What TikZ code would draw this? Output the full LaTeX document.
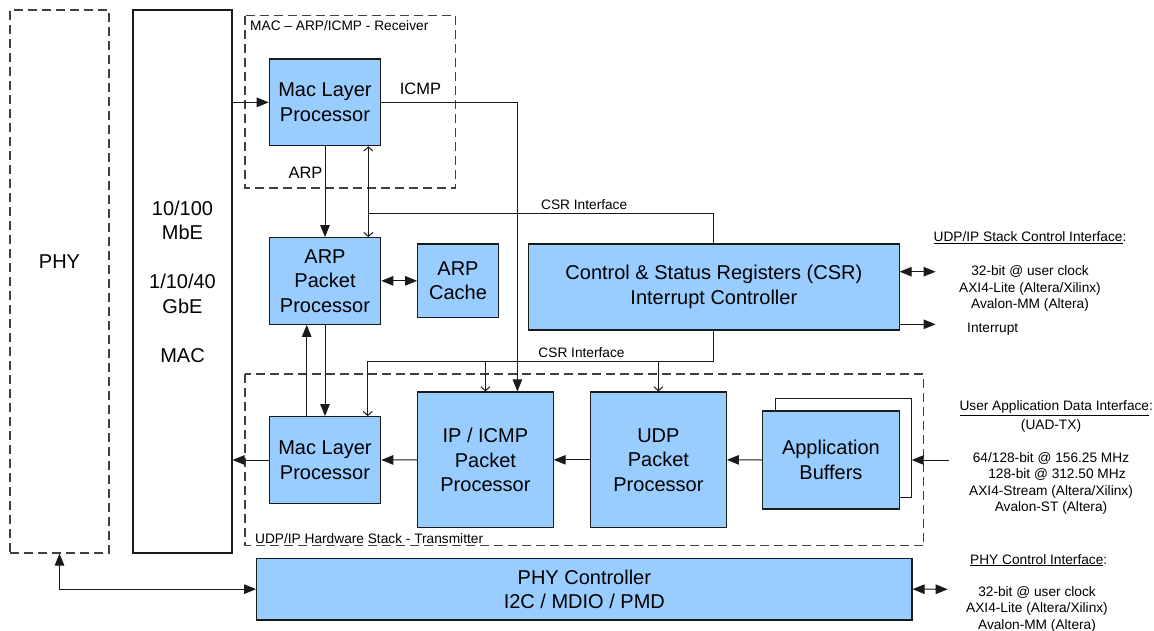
\documentclass[tikz,border=0pt]{standalone}
\usepackage{fontspec}
\setmainfont{Liberation Sans}
\usetikzlibrary{arrows.meta}
\definecolor{boxblue}{HTML}{99CCFF}
\definecolor{dashgray}{HTML}{404040}
\definecolor{linecol}{HTML}{1A1A1A}
\begin{document}
\begin{tikzpicture}[x=1pt,y=-1pt,
  big/.style={font=\fontsize{20}{24.5}\selectfont},
  small/.style={font=\fontsize{13.7}{16.4}\selectfont},
  blk/.style={draw=linecol,fill=boxblue,line width=1.2pt,align=center,inner sep=0pt,big},
  plainbox/.style={draw=linecol,line width=1.1pt,inner sep=0pt,align=center,big},
  dbox/.style={draw=dashgray,line width=1.1pt,dash pattern=on 9pt off 5pt},
  ln/.style={draw=linecol,line width=1pt},
  tri/.style={ln,-{Triangle[length=12pt,width=9.5pt]}},
  tritri/.style={ln,{Triangle[length=12pt,width=9.5pt]}-{Triangle[length=12pt,width=9.5pt]}},
  barb/.style={ln,-{Straight Barb[length=4pt,width=9pt]}},
  barbbarb/.style={ln,{Straight Barb[length=4pt,width=9pt]}-{Straight Barb[length=4pt,width=9pt]}},
  lbl/.style={inner sep=0pt,small},
]
\useasboundingbox (0,0) rectangle (1154,631);

% outer blocks
\node[dbox,inner sep=0pt,minimum width=99pt,minimum height=543pt] (phy) at (59.5,281.5) {};
\node[big,inner sep=0pt,anchor=base] (phylbl) at (59.5,269) {PHY};
\node[plainbox,minimum width=99pt,minimum height=543pt] (mac) at (182.5,281.5)
  {10/100\\MbE\\[24.5pt]1/10/40\\GbE\\[24.5pt]MAC};

% group frames
\draw[dbox] (245,15.7) rectangle (455.7,188);
\node[lbl,anchor=base west] (rxlbl) at (250,30.7) {MAC – ARP/ICMP - Receiver};
\draw[dbox] (245,374) rectangle (923.6,545.5);
\node[lbl,anchor=base west] (txlbl) at (255,543) {UDP/IP Hardware Stack - Transmitter};

% blocks
\node[blk,minimum width=111.4pt,minimum height=86.7pt] (macrx) at (325,102.35) {Mac Layer\\Processor};
\node[blk,minimum width=111.4pt,minimum height=86.6pt] (arppp) at (325,281) {ARP\\Packet\\Processor};
\node[blk,minimum width=80.6pt,minimum height=73.7pt] (arpc) at (458,280.85) {ARP\\Cache};
\node[blk,minimum width=370.5pt,minimum height=86pt] (csr) at (713.85,287)
  {Control \& Status Registers (CSR)\\Interrupt Controller};
\node[blk,minimum width=111.4pt,minimum height=86.6pt] (mactx) at (325,460) {Mac Layer\\Processor};
\node[blk,minimum width=135.4pt,minimum height=135.7pt] (ip) at (485.4,459.85) {IP / ICMP\\Packet\\Processor};
\node[blk,minimum width=135.8pt,minimum height=135.7pt] (udp) at (658.4,459.85) {UDP\\Packet\\Processor};
\node[blk,fill=white,minimum width=135.4pt,minimum height=99pt] (appback) at (843.4,447.8) {};
\node[blk,minimum width=136.3pt,minimum height=98pt] (appfront) at (830.95,460) {Application\\Buffers};
\node[blk,minimum width=655.3pt,minimum height=61.7pt] (phyctl) at (584.35,589.15) {PHY Controller\\I2C / MDIO / PMD};

% coordinates for free ends
\coordinate (j1) at (368.3,213.3);
\coordinate (j2) at (367.7,361);
\coordinate (csrio) at (935.6,271.7);
\coordinate (irq) at (935.6,324.3);
\coordinate (uadin) at (948.5,460);
\coordinate (phyio) at (947.7,589.3);

% receiver connectors
\draw[tri] (mac.east |- macrx.west) -- (macrx.west);
\draw[tri] (macrx.east) -| ([xshift=32pt]ip.north);
\node[lbl,font=\fontsize{16.5}{18}\selectfont,anchor=base] (icmplbl) at (420.5,94.3) {ICMP};
\draw[tri] (macrx.south) -- (arppp.north);
\node[lbl,font=\fontsize{16.5}{18}\selectfont,anchor=base] (arplbl) at (305.5,178.3) {ARP};
\draw[barbbarb] ([xshift=43.3pt]macrx.south) -- ([xshift=43.3pt]arppp.north);
\draw[ln] (j1) -| (csr.north);
\node[lbl,anchor=base] (csrlbl1) at (584.2,210) {CSR Interface};
\draw[tritri] (arppp.east |- arpc.west) -- (arpc.west);

% CSR external
\draw[tritri] (csr.east |- csrio) -- (csrio);
\draw[tri] (csr.east |- irq) -- (irq);
\node[lbl,anchor=base west] (ctlhdr) at (933.5,241.7) {\underline{UDP/IP Stack Control Interface}:};
\node[lbl,anchor=north,align=center] (ctltxt) at (1030,265.7)
  {32-bit @ user clock\\AXI4-Lite (Altera/Xilinx)\\Avalon-MM (Altera)};
\node[lbl,anchor=north west] (irqlbl) at (967,322.7) {Interrupt};

% lower CSR interface
\draw[ln] (csr.south) |- (j2);
\node[lbl,anchor=base] (csrlbl2) at (581.5,357.7) {CSR Interface};
\draw[barb] (j2) -- (j2 |- mactx.north);
\draw[barb] (ip.north |- j2) -- (ip.north);
\draw[barb] (udp.north |- j2) -- (udp.north);

% ARP <-> MAC TX
\draw[tri] ([xshift=-18.3pt]mactx.north) -- ([xshift=-18.3pt]arppp.south);
\draw[tri] (arppp.south) -- (mactx.north);

% transmit chain
\draw[tri] (mactx.west) -- (mac.east |- mactx.west);
\draw[tri] (ip.west) -- (mactx.east);
\draw[tri] (udp.west) -- (ip.east);
\draw[tri] (appfront.west) -- (udp.east);
\draw[tri] (uadin) -- (appback.east |- uadin);
\node[lbl,anchor=base west] (uadhdr) at (959.3,410.7) {\underline{User Application Data Interface}:};
\node[lbl,anchor=north,align=center] (uadtxt) at (1051,419.3)
  {(UAD-TX)\\ \\64/128-bit @ 156.25 MHz\\\hspace*{12pt}128-bit @ 312.50 MHz\\AXI4-Stream (Altera/Xilinx)\\Avalon-ST (Altera)};

% PHY control
\draw[tritri] (phy.south) |- (phyctl.west);
\draw[tritri] (phyctl.east) -- (phyio);
\node[lbl,anchor=base west] (phyhdr) at (970,564) {\underline{PHY Control Interface}:};
\node[lbl,anchor=north,align=center,font=\fontsize{13.7}{16.2}\selectfont] (phytxt) at (1037,586.5)
  {32-bit @ user clock\\AXI4-Lite (Altera/Xilinx)\\Avalon-MM (Altera)};
\end{tikzpicture}
\end{document}
